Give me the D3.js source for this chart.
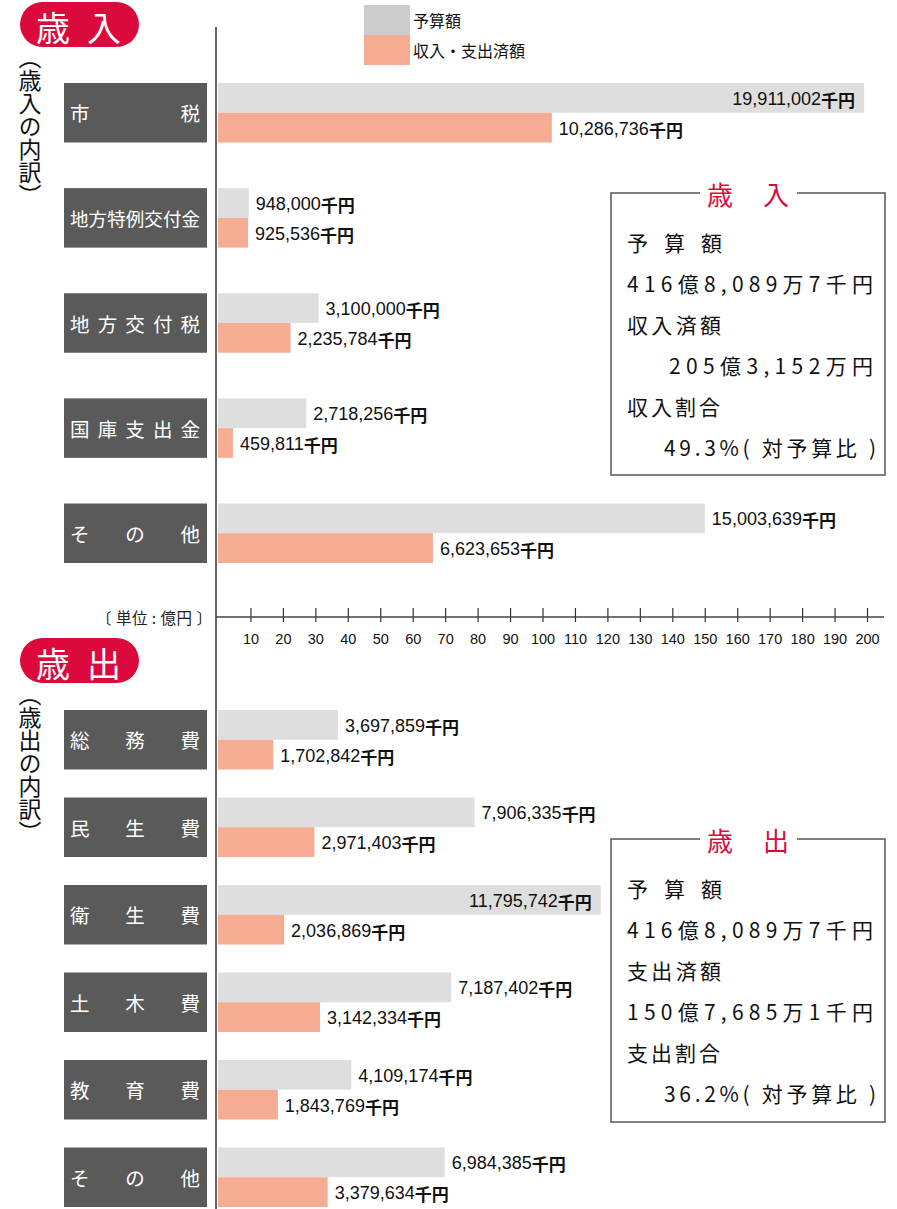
<!DOCTYPE html>
<html>
<head>
<meta charset="utf-8">
<script src="https://cdn.jsdelivr.net/npm/d3@7"></script>
<style>
  body { margin: 0; background: #fff; }
  svg { display: block; }
  .jp { font-family: "Noto Sans CJK JP", "Noto Sans", sans-serif; }
  .num { font-family: "Liberation Sans", Arial, sans-serif; }
</style>
</head>
<body>
<svg id="chart" width="897" height="1209"></svg>
<script>
// 歳入 (千円)
var revCats = ['市税', '地方特例交付金', '地方交付税', '国庫支出金', 'その他'];
var revBudget = [19911002, 948000, 3100000, 2718256, 15003639];
var revActual = [10286736, 925536, 2235784, 459811, 6623653];

// 歳出 (千円)
var expCats = ['総務費', '民生費', '衛生費', '土木費', '教育費', 'その他'];
var expBudget = [3697859, 7906335, 11795742, 7187402, 4109174, 6984385];
var expActual = [1702842, 2971403, 2036869, 3142334, 1843769, 3379634];

var tickValues = [10, 20, 30, 40, 50, 60, 70, 80, 90, 100, 110, 120, 130, 140, 150, 160, 170, 180, 190, 200];
var seriesNames = ['予算額', '収入・支出済額'];

var revSummary = ['予 算 額', '416億8,089万7千円', '収入済額', '205億3,152万円', '収入割合', '49.3%( 対予算比 )'];
var expSummary = ['予 算 額', '416億8,089万7千円', '支出済額', '150億7,685万1千円', '支出割合', '36.2%( 対予算比 )'];

var RED = '#dc0a3c', GRAY = '#dedede', LEGGRAY = '#cccccc', SALMON = '#f5ac92', BOX = '#5a5a5a';

var svg = d3.select('#chart');
var x = d3.scaleLinear().domain([0, 200]).range([218, 867]);
var toOku = function (v) { return v / 100000; };
var fmt = d3.format(',');

// axis lines
svg.append('line').attr('x1', 216).attr('x2', 216).attr('y1', 27).attr('y2', 1209)
    .attr('stroke', '#666').attr('stroke-width', 2);

var axis = d3.axisBottom(x).tickValues(tickValues).tickSize(0).tickPadding(0);
var axisG = svg.append('g').attr('transform', 'translate(0,617)').call(axis);
axisG.select('.domain').remove();
axisG.append('line').attr('x1', 216).attr('x2', 884).attr('stroke', '#444').attr('stroke-width', 1.3);
axisG.selectAll('.tick').append('line').attr('y1', -9).attr('y2', 5).attr('stroke', '#333').attr('stroke-width', 1.2);
axisG.selectAll('.tick text').attr('y', 27).attr('dy', 0).attr('fill', '#111')
    .attr('font-size', 14.5).attr('class', 'num');

svg.append('text').attr('class', 'jp').attr('x', 96).attr('y', 617)
    .attr('dominant-baseline', 'central')
    .attr('font-size', 15.5).attr('fill', '#222')
    .attr('textLength', 116).attr('lengthAdjust', 'spacing')
    .text('〔 単位 : 億円 〕');

// legend
var legColors = [LEGGRAY, SALMON];
seriesNames.forEach(function (name, i) {
    svg.append('rect').attr('x', 364).attr('y', 5 + i * 30).attr('width', 46).attr('height', 30)
        .attr('fill', legColors[i]);
    svg.append('text').attr('class', 'jp').attr('x', 413).attr('y', 20 + i * 30)
        .attr('dominant-baseline', 'central').attr('font-size', 16).attr('fill', '#111')
        .text(name);
});

function badge(y0, chars) {
    svg.append('rect').attr('x', 20).attr('y', y0).attr('width', 119).attr('height', 45)
        .attr('rx', 22.5).attr('fill', RED);
    chars.forEach(function (c, i) {
        svg.append('text').attr('class', 'jp').attr('x', 53 + i * 51).attr('y', y0 + 24)
            .attr('text-anchor', 'middle').attr('dominant-baseline', 'central')
            .attr('font-size', 34).attr('fill', '#fff').text(c);
    });
}

function verticalLabel(y0, txt) {
    svg.append('text').attr('class', 'jp').attr('x', 30).attr('y', y0)
        .style('writing-mode', 'vertical-rl')
        .attr('font-size', 23).attr('fill', '#111').text(txt);
}

function justify(g, label, cy) {
    var chars = label.split('');
    var fs = chars.length > 5 ? 18.5 : 19.5;
    var x0 = 70, x1 = 200;
    var step = chars.length > 1 ? (x1 - x0 - fs) / (chars.length - 1) : 0;
    chars.forEach(function (c, i) {
        g.append('text').attr('class', 'jp').attr('x', x0 + i * step).attr('y', cy)
            .attr('dominant-baseline', 'central').attr('font-size', fs)
            .attr('fill', '#fff').text(c);
    });
}

function valueLabel(g, v, barEnd, cy, limit) {
    var t = g.append('text').attr('y', cy + 1).attr('dominant-baseline', 'central').attr('fill', '#111');
    t.append('tspan').attr('class', 'num').attr('font-size', 18).text(fmt(v));
    t.append('tspan').attr('class', 'jp').attr('font-size', 17).attr('font-weight', 'bold').text('千円');
    var w = t.node().getComputedTextLength();
    if (barEnd + 7 + w > limit) {
        t.attr('x', barEnd - 9).attr('text-anchor', 'end');
    } else {
        t.attr('x', barEnd + 7);
    }
}

function section(cats, budget, actual, range, pad, limit) {
    var y = d3.scaleBand().domain(cats).range(range).paddingInner(pad).paddingOuter(0);
    var sub = d3.scaleBand().domain([0, 1]).range([0, y.bandwidth()]);
    var g = svg.append('g');
    cats.forEach(function (c, i) {
        var y0 = y(c);
        g.append('rect').attr('x', 64).attr('y', y0).attr('width', 143).attr('height', y.bandwidth())
            .attr('fill', BOX);
        justify(g, c, y0 + y.bandwidth() / 2);
        [budget[i], actual[i]].forEach(function (v, k) {
            var by = y0 + sub(k);
            g.append('rect').attr('x', x(0)).attr('y', by)
                .attr('width', x(toOku(v)) - x(0)).attr('height', sub.bandwidth())
                .attr('fill', k === 0 ? GRAY : SALMON);
            valueLabel(g, v, x(toOku(v)), by + sub.bandwidth() / 2, limit);
        });
    });
}

function summaryBox(top, bottom, title, lines, spans) {
    var g = svg.append('g');
    g.append('path')
        .attr('d', 'M700,' + top + 'H611V' + bottom + 'H885V' + top + 'H797')
        .attr('fill', 'none').attr('stroke', '#555').attr('stroke-width', 1.5);
    title.forEach(function (c, i) {
        g.append('text').attr('class', 'jp').attr('x', 720 + i * 56).attr('y', top)
            .attr('text-anchor', 'middle').attr('dominant-baseline', 'central')
            .attr('font-size', 26).attr('fill', RED).text(c);
    });
    lines.forEach(function (l, i) {
        g.append('text').attr('class', 'jp').attr('x', spans[i][0]).attr('y', top + 49 + i * 41)
            .attr('dominant-baseline', 'central').attr('font-size', 21).attr('fill', '#111')
            .attr('textLength', spans[i][1] - spans[i][0]).attr('lengthAdjust', 'spacing')
            .text(l);
    });
}

badge(2, ['歳', '入']);
verticalLabel(46, '（歳入の内訳）');
section(revCats, revBudget, revActual, [83, 563], 0.434, 885);
summaryBox(193, 475, ['歳', '入'], revSummary,
    [[627, 722], [627, 873], [627, 721], [669, 873], [627, 720], [664, 876]]);

badge(638, ['歳', '出']);
verticalLabel(683, '（歳出の内訳）');
section(expCats, expBudget, expActual, [710, 1207], 0.32, 620);
summaryBox(839, 1122, ['歳', '出'], expSummary,
    [[627, 722], [627, 873], [627, 721], [627, 873], [627, 720], [664, 876]]);
</script>
</body>
</html>
